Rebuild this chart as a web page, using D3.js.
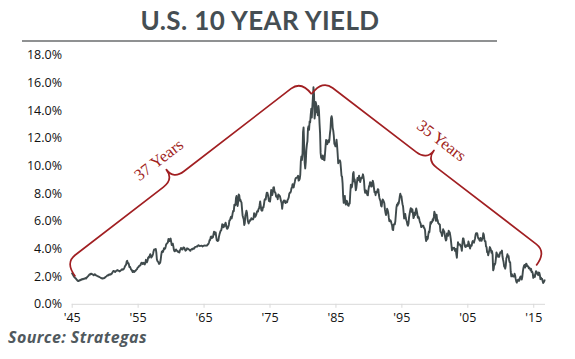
<!DOCTYPE html>
<html><head><meta charset="utf-8">
<script src="https://cdn.jsdelivr.net/npm/d3@7"></script>
<style>
html,body{margin:0;padding:0;background:#fff;}
svg{display:block;}
</style></head>
<body>
<svg id="chart" width="575" height="359"></svg>
<script>
// ---------------- DATA ----------------
const titleText = "U.S. 10 YEAR YIELD";
const sourceText = "Source: Strategas";
const startYear = 1945;          // first monthly observation: Jan 1945
const yTicks = [0, 2, 4, 6, 8, 10, 12, 14, 16, 18];
const xTickYears = [1945, 1955, 1965, 1975, 1985, 1995, 2005, 2015];
const xTickLabels = ["'45", "'55", "'65", "'75", "'85", "'95", "'05", "'15"];
// monthly 10-year yield (%), Jan 1945 .. Oct 2016
const yields = [
/*1945*/2.25,2.20,2.10,2.05,1.98,1.92,1.88,1.85,1.80,1.75,1.70,1.66,
/*1946*/1.64,1.66,1.70,1.68,1.74,1.72,1.78,1.76,1.80,1.78,1.82,1.80,
/*1947*/1.84,1.86,1.82,1.88,1.92,1.96,2.00,2.06,2.10,2.14,2.12,2.18,
/*1948*/2.17,2.15,2.12,2.10,2.06,2.10,2.14,2.10,2.06,2.05,2.02,2.00,
/*1949*/1.98,1.96,1.94,1.92,1.90,1.88,1.86,1.84,1.82,1.85,1.84,1.86,
/*1950*/1.88,1.92,1.95,1.98,2.02,2.06,2.04,2.08,2.12,2.10,2.14,2.12,
/*1951*/2.15,2.18,2.26,2.32,2.38,2.36,2.34,2.30,2.34,2.38,2.40,2.44,
/*1952*/2.42,2.40,2.38,2.34,2.36,2.40,2.44,2.48,2.50,2.46,2.48,2.54,
/*1953*/2.62,2.72,2.78,2.83,3.05,3.11,2.93,2.95,2.87,2.66,2.68,2.59,
/*1954*/2.48,2.47,2.37,2.29,2.37,2.38,2.30,2.36,2.38,2.43,2.48,2.51,
/*1955*/2.61,2.65,2.68,2.75,2.76,2.78,2.90,2.97,2.97,2.88,2.89,2.96,
/*1956*/2.90,2.84,2.96,3.18,3.07,3.00,3.11,3.33,3.38,3.34,3.49,3.59,
/*1957*/3.46,3.34,3.41,3.48,3.60,3.80,3.93,3.93,3.92,3.97,3.72,3.21,
/*1958*/3.09,3.05,2.98,2.88,2.92,2.97,3.20,3.54,3.76,3.80,3.74,3.86,
/*1959*/4.02,3.96,3.99,4.12,4.31,4.34,4.40,4.43,4.68,4.53,4.53,4.69,
/*1960*/4.72,4.49,4.25,4.28,4.35,4.15,3.90,3.80,3.80,3.89,3.93,3.84,
/*1961*/3.84,3.78,3.74,3.78,3.71,3.88,3.92,4.04,3.98,3.92,3.94,4.06,
/*1962*/4.08,4.04,3.93,3.84,3.87,3.91,4.01,3.98,3.98,3.93,3.92,3.86,
/*1963*/3.83,3.92,3.93,3.97,3.93,3.99,4.02,4.00,4.08,4.11,4.12,4.13,
/*1964*/4.17,4.15,4.22,4.23,4.20,4.17,4.19,4.19,4.20,4.19,4.15,4.18,
/*1965*/4.19,4.21,4.21,4.20,4.21,4.21,4.20,4.25,4.29,4.35,4.45,4.62,
/*1966*/4.61,4.83,4.87,4.75,4.78,4.81,5.02,5.22,5.18,5.01,5.16,4.84,
/*1967*/4.58,4.63,4.54,4.59,4.85,5.02,5.16,5.28,5.30,5.48,5.75,5.70,
/*1968*/5.53,5.56,5.74,5.64,5.87,5.72,5.50,5.42,5.46,5.58,5.70,6.03,
/*1969*/6.04,6.19,6.30,6.17,6.32,6.57,6.72,6.69,7.16,7.10,7.14,7.65,
/*1970*/7.79,7.24,7.07,7.39,7.91,7.84,7.46,7.53,7.39,7.33,6.84,6.39,
/*1971*/6.24,6.11,5.70,5.83,6.39,6.52,6.73,6.58,6.14,5.93,5.81,5.93,
/*1972*/5.95,6.08,6.07,6.19,6.13,6.11,6.11,6.21,6.55,6.48,6.28,6.36,
/*1973*/6.46,6.64,6.71,6.67,6.85,6.90,7.13,7.40,7.09,6.79,6.73,6.74,
/*1974*/6.99,6.96,7.21,7.51,7.58,7.54,7.81,8.04,8.04,7.90,7.68,7.43,
/*1975*/7.50,7.39,7.73,8.23,8.06,7.86,8.06,8.40,8.43,8.14,8.05,8.00,
/*1976*/7.74,7.79,7.73,7.56,7.90,7.86,7.83,7.77,7.59,7.41,7.29,6.87,
/*1977*/7.21,7.39,7.46,7.37,7.46,7.28,7.33,7.40,7.34,7.52,7.58,7.69,
/*1978*/7.96,8.03,8.04,8.15,8.35,8.46,8.64,8.41,8.42,8.64,8.81,9.01,
/*1979*/9.10,9.10,9.12,9.18,9.25,8.91,8.95,9.03,9.33,10.30,10.65,10.39,
/*1980*/10.80,12.41,12.75,11.47,10.18,9.78,10.25,11.10,11.51,11.75,12.68,12.84,
/*1981*/12.57,13.19,13.12,13.68,14.10,13.47,14.28,14.94,15.65,15.15,13.39,13.72,
/*1982*/14.59,14.43,13.86,13.87,13.62,14.30,13.95,13.06,12.34,10.91,10.55,10.54,
/*1983*/10.46,10.72,10.51,10.40,10.38,10.85,11.38,11.85,11.65,11.54,11.69,11.83,
/*1984*/11.67,11.84,12.32,12.63,13.41,13.56,13.36,12.72,12.52,12.16,11.57,11.50,
/*1985*/11.38,11.51,11.86,11.43,10.85,10.16,10.31,10.33,10.37,10.24,9.78,9.26,
/*1986*/9.19,8.70,7.78,7.30,7.71,7.80,7.30,7.17,7.45,7.43,7.25,7.11,
/*1987*/7.08,7.25,7.25,8.02,8.61,8.40,8.45,8.76,9.42,9.52,8.86,8.99,
/*1988*/8.67,8.21,8.37,8.72,9.09,8.92,9.06,9.26,8.98,8.80,8.96,9.11,
/*1989*/9.09,9.17,9.36,9.18,8.86,8.28,8.02,8.11,8.19,8.01,7.87,7.84,
/*1990*/8.21,8.47,8.59,8.79,8.76,8.48,8.47,8.75,8.89,8.72,8.39,8.08,
/*1991*/8.09,7.85,8.11,8.04,8.07,8.28,8.27,7.90,7.65,7.53,7.42,7.09,
/*1992*/7.03,7.34,7.54,7.48,7.39,7.26,6.84,6.59,6.42,6.59,6.87,6.77,
/*1993*/6.60,6.26,5.98,5.97,6.04,5.96,5.81,5.68,5.36,5.33,5.72,5.77,
/*1994*/5.75,5.97,6.48,6.97,7.18,7.10,7.30,7.24,7.46,7.74,7.96,7.81,
/*1995*/7.78,7.47,7.20,7.06,6.63,6.17,6.28,6.49,6.20,6.04,5.93,5.71,
/*1996*/5.65,5.81,6.27,6.51,6.74,6.91,6.87,6.64,6.83,6.53,6.20,6.30,
/*1997*/6.58,6.42,6.69,6.89,6.71,6.49,6.22,6.30,6.21,6.03,5.88,5.81,
/*1998*/5.54,5.57,5.65,5.64,5.65,5.50,5.46,5.34,4.81,4.53,4.83,4.65,
/*1999*/4.72,5.00,5.23,5.18,5.54,5.90,5.79,5.94,5.92,6.11,6.03,6.28,
/*2000*/6.66,6.52,6.26,5.99,6.44,6.10,6.05,5.83,5.80,5.74,5.72,5.24,
/*2001*/5.16,5.10,4.89,5.14,5.39,5.28,5.24,4.97,4.73,4.57,4.65,5.09,
/*2002*/5.04,4.91,5.28,5.21,5.16,4.93,4.65,4.26,3.87,3.94,4.05,4.03,
/*2003*/4.05,3.90,3.81,3.96,3.57,3.33,3.98,4.45,4.27,4.29,4.30,4.27,
/*2004*/4.15,4.08,3.83,4.35,4.72,4.73,4.50,4.28,4.13,4.10,4.19,4.23,
/*2005*/4.22,4.17,4.50,4.34,4.14,4.00,4.18,4.26,4.20,4.46,4.54,4.47,
/*2006*/4.42,4.57,4.72,4.99,5.11,5.11,5.09,4.88,4.72,4.73,4.60,4.56,
/*2007*/4.76,4.72,4.56,4.69,4.75,5.10,5.00,4.67,4.52,4.53,4.15,4.10,
/*2008*/3.74,3.74,3.51,3.68,3.88,4.10,4.01,3.89,3.69,3.81,3.53,2.42,
/*2009*/2.52,2.87,2.82,2.93,3.29,3.72,3.56,3.59,3.40,3.39,3.40,3.59,
/*2010*/3.73,3.69,3.73,3.85,3.42,3.20,3.01,2.70,2.65,2.54,2.76,3.29,
/*2011*/3.39,3.58,3.41,3.46,3.17,3.00,3.00,2.30,1.98,2.15,2.01,1.98,
/*2012*/1.97,1.97,2.17,2.05,1.80,1.62,1.53,1.68,1.72,1.75,1.65,1.72,
/*2013*/1.91,1.98,1.96,1.76,1.93,2.30,2.58,2.74,2.81,2.62,2.72,2.90,
/*2014*/2.86,2.71,2.72,2.71,2.56,2.60,2.54,2.42,2.53,2.30,2.33,2.21,
/*2015*/1.88,1.98,2.04,1.94,2.20,2.36,2.32,2.17,2.17,2.07,2.26,2.24,
/*2016*/2.09,1.78,1.89,1.81,1.81,1.64,1.50,1.56,1.63,1.76
];
// brace annotations: endpoints in data space [year, yield]
const braceLabels = ["37 Years", "35 Years"];
const braceStarts = [[1945.55, 1.98], [1981.45, 15.2]];
const braceEnds   = [[1981.4, 15.15], [2015.45, 2.77]];

// ---------------- CHART ----------------
const svg = d3.select("#chart");
const W = 575, H = 359;
svg.append("rect").attr("width", W).attr("height", H).attr("fill", "#fff");

const x = d3.scaleLinear().domain([1945, 2016.78]).range([71.7, 545]);
const y = d3.scaleLinear().domain([0, 18]).range([303.8, 54.8]);

// title
svg.append("text")
  .attr("x", 260).attr("y", 29.5)
  .attr("text-anchor", "middle")
  .attr("font-family", "Lato, 'Open Sans', sans-serif")
  .attr("font-weight", 700)
  .attr("font-size", 26)
  .attr("letter-spacing", 0.4)
  .attr("fill", "#454e53")
  .text(titleText);
svg.append("line")
  .attr("x1", 22).attr("x2", 497).attr("y1", 41).attr("y2", 41)
  .attr("stroke", "#8f9192").attr("stroke-width", 2);

// y axis (labels only)
const yAxis = d3.axisLeft(y).tickValues(yTicks).tickSize(0).tickPadding(0)
  .tickFormat(d => d3.format(".1f")(d) + "%");
const gy = svg.append("g").attr("transform", "translate(62,0)").call(yAxis);
gy.select(".domain").remove();
gy.selectAll("text")
  .attr("font-family", "'Open Sans', sans-serif")
  .attr("font-size", 12.5)
  .attr("fill", "#111");

// x axis
const xAxis = d3.axisBottom(x).tickValues(xTickYears).tickSize(4).tickPadding(5)
  .tickFormat((d, i) => xTickLabels[i]);
const gx = svg.append("g").attr("transform", `translate(0,${y(0)})`).call(xAxis);
gx.select(".domain").attr("stroke", "#d9d9d9").attr("d", `M${x.range()[0]},0.5H${x.range()[1]}`);
gx.selectAll(".tick line").attr("stroke", "#d9d9d9");
gx.selectAll("text")
  .attr("font-family", "'Open Sans', sans-serif")
  .attr("font-size", 12.5)
  .attr("fill", "#111");

// data line
const pts = yields.map((v, i) => [startYear + i / 12, v]);
svg.append("path")
  .datum(pts)
  .attr("fill", "none")
  .attr("stroke", "#3f4a4c")
  .attr("stroke-width", 1.9)
  .attr("stroke-linejoin", "round")
  .attr("d", d3.line().x(d => x(d[0])).y(d => y(d[1])));

// curly braces
const braceColor = "#a11f22";
function bracePath(p1, p2, side, w, h, r, tipFrac) {
  const dx = p2[0] - p1[0], dy = p2[1] - p1[1];
  const L = Math.hypot(dx, dy);
  const u = [dx / L, dy / L];
  const n = side > 0 ? [u[1], -u[0]] : [-u[1], u[0]];
  const P = (s, t) => [p1[0] + u[0] * s + n[0] * t, p1[1] + u[1] * s + n[1] * t];
  const m = L * tipFrac;
  const path = d3.path();
  let a, b;
  path.moveTo(...P(0, 0));
  a = P(0, w); b = P(r, w); path.quadraticCurveTo(a[0], a[1], b[0], b[1]);
  b = P(m - r, w); path.lineTo(b[0], b[1]);
  a = P(m, w); b = P(m, w + h); path.quadraticCurveTo(a[0], a[1], b[0], b[1]);
  a = P(m, w); b = P(m + r, w); path.quadraticCurveTo(a[0], a[1], b[0], b[1]);
  b = P(L - r, w); path.lineTo(b[0], b[1]);
  a = P(L, w); b = P(L, 0); path.quadraticCurveTo(a[0], a[1], b[0], b[1]);
  return { d: path.toString(), P, m, angle: Math.atan2(u[1], u[0]) * 180 / Math.PI };
}
braceLabels.forEach((lab, i) => {
  const p1 = [x(braceStarts[i][0]), y(braceStarts[i][1])];
  const p2 = [x(braceEnds[i][0]), y(braceEnds[i][1])];
  const frac = i === 0 ? 0.46 : 0.465;
  let b = bracePath(p1, p2, 1, 17, 12, 13, frac);
  // ensure the brace bulges upward (away from the data)
  const tip = b.P(b.m, 29);
  if (tip[1] > (p1[1] + p2[1]) / 2) b = bracePath(p1, p2, -1, 17, 12, 13, frac);
  svg.append("path").attr("d", b.d).attr("fill", "none")
    .attr("stroke", braceColor).attr("stroke-width", 1.7).attr("stroke-linejoin", "round");
  const lp = b.P(b.m, 36);
  svg.append("text")
    .attr("transform", `translate(${lp[0]},${lp[1]}) rotate(${b.angle})`)
    .attr("text-anchor", "middle")
    .attr("font-family", "'Liberation Serif', 'Times New Roman', serif")
    .attr("font-size", 16.5)
    .attr("fill", braceColor)
    .text(lab);
});

// source
svg.append("text")
  .attr("x", 8).attr("y", 343)
  .attr("font-family", "'Open Sans', sans-serif")
  .attr("font-weight", 700)
  .attr("font-style", "italic")
  .attr("font-size", 16)
  .attr("letter-spacing", 0.4)
  .attr("fill", "#50595e")
  .text(sourceText);
</script>
</body></html>
